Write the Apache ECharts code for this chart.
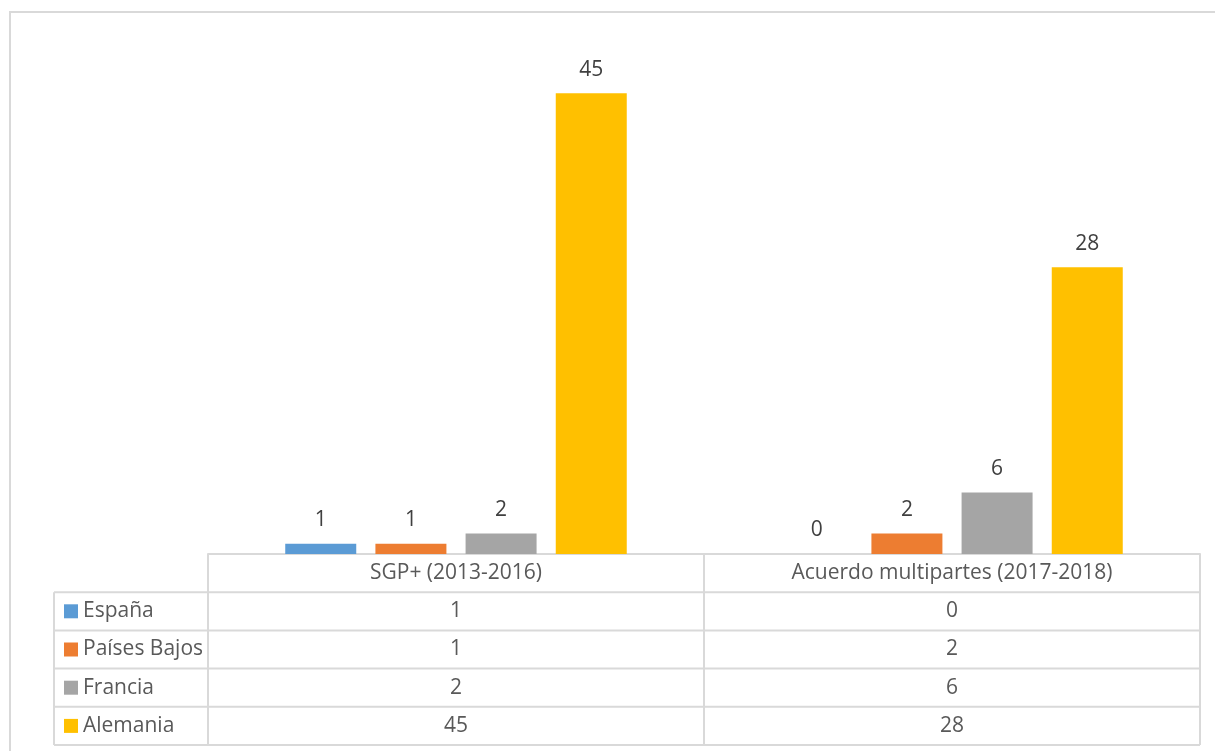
<!DOCTYPE html>
<html>
<head>
<meta charset="utf-8">
<script src="https://cdn.jsdelivr.net/npm/echarts@6/dist/echarts.min.js"></script>
<style>
  html, body { margin: 0; padding: 0; background: #fff; }
  #chart { width: 1215px; height: 751px; }
</style>
</head>
<body>
<div id="chart"></div>
<script>
// categorias y valores
var categories = ["SGP+ (2013-2016)", "Acuerdo multipartes (2017-2018)"];
var seriesNames = ["España", "Países Bajos", "Francia", "Alemania"];
var espana = [1, 0];
var paisesBajos = [1, 2];
var francia = [2, 6];
var alemania = [45, 28];
var seriesValues = [espana, paisesBajos, francia, alemania];
var colors = ["#5b9bd5", "#ed7d31", "#a5a5a5", "#ffc000"];

var font = "'Open Sans', Lato, sans-serif";
var lineColor = "#d9d9d9";
var rowHeight = 38.2;

var myChart = echarts.init(document.getElementById("chart"));

var seriesData = [];
seriesNames.map(function (name, index) {
  seriesData.push({
    name: name,
    type: "bar",
    data: seriesValues[index],
    barWidth: 71,
    barGap: "27%",
    itemStyle: { color: colors[index] },
    label: {
      show: true,
      position: "top",
      distance: 13,
      color: "#404040",
      fontFamily: font,
      fontSize: 21,
    },
  });
});

var option = {
  animation: false,
  grid: { left: 208, right: 15, top: 42, bottom: 197 },
  xAxis: {
    type: "category",
    data: categories,
    axisLine: { show: true, lineStyle: { color: lineColor, width: 2 } },
    axisTick: { show: false },
    axisLabel: { show: false },
  },
  yAxis: {
    type: "value",
    min: 0,
    max: 50,
    show: false,
  },
  series: seriesData,
};
myChart.setOption(option);

// tabla de datos debajo del grafico
function drawTable() {
  var c0 = myChart.convertToPixel({ xAxisIndex: 0 }, 0);
  var c1 = myChart.convertToPixel({ xAxisIndex: 0 }, 1);
  var band = c1 - c0;
  var base = myChart.convertToPixel({ yAxisIndex: 0 }, 0);
  var left = c0 - band / 2;
  var right = c1 + band / 2;
  var labelLeft = 54;
  var lineStyle = { stroke: lineColor, lineWidth: 2 };
  var els = [];

  // borde exterior
  els.push({
    type: "rect",
    shape: { x: 10, y: 12, width: 1230, height: 760 },
    style: { fill: null, stroke: lineColor, lineWidth: 2 },
    silent: true,
  });

  var bottom = base + rowHeight * (seriesNames.length + 1);
  // lineas verticales
  [left, c0 + band / 2, right].map(function (x) {
    els.push({ type: "line", shape: { x1: x, y1: base, x2: x, y2: bottom }, style: lineStyle });
  });
  els.push({ type: "line", shape: { x1: labelLeft, y1: base + rowHeight, x2: labelLeft, y2: bottom }, style: lineStyle });
  // lineas horizontales
  for (var r = 1; r <= seriesNames.length + 1; r++) {
    els.push({
      type: "line",
      shape: { x1: labelLeft, y1: base + rowHeight * r, x2: right, y2: base + rowHeight * r },
      style: lineStyle,
    });
  }

  var textStyle = { fill: "#595959", fontFamily: font, fontSize: 21, align: "center", verticalAlign: "middle" };
  // encabezados
  categories.map(function (cat, i) {
    els.push({
      type: "text",
      x: c0 + band * i,
      y: base + rowHeight / 2,
      style: Object.assign({}, textStyle, { text: cat }),
    });
  });
  // filas
  seriesNames.map(function (name, s) {
    var y = base + rowHeight * (s + 1.5);
    els.push({
      type: "rect",
      shape: { x: 64, y: y - 7, width: 14, height: 14 },
      style: { fill: colors[s] },
    });
    els.push({
      type: "text",
      x: 83,
      y: y,
      style: Object.assign({}, textStyle, { text: name, align: "left" }),
    });
    seriesValues[s].map(function (v, i) {
      els.push({
        type: "text",
        x: c0 + band * i,
        y: y,
        style: Object.assign({}, textStyle, { text: String(v) }),
      });
    });
  });

  myChart.setOption({ graphic: { elements: els } });
}
drawTable();
</script>
</body>
</html>
